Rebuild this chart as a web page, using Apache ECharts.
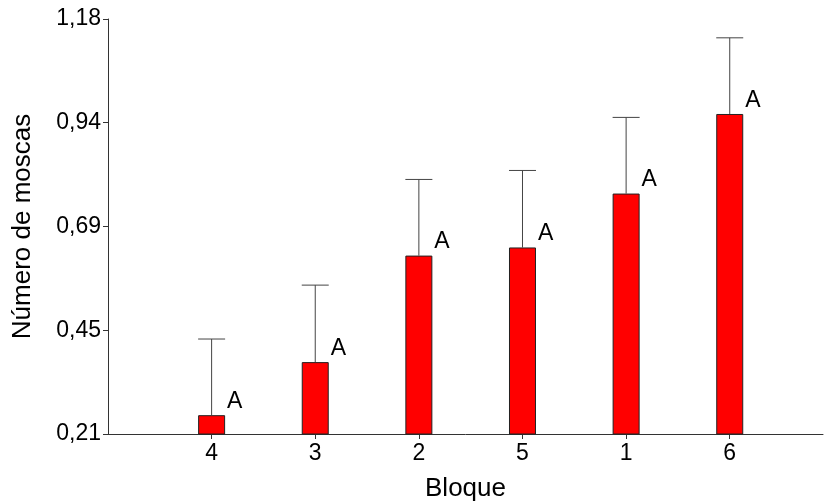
<!DOCTYPE html>
<html>
<head>
<meta charset="utf-8">
<script src="https://cdn.jsdelivr.net/npm/echarts@6/dist/echarts.min.js"></script>
<style>
  html, body { margin: 0; padding: 0; background: #fff; }
  #chart { width: 824px; height: 504px; }
</style>
</head>
<body>
<div id="chart"></div>
<script>
var categories = ['4', '3', '2', '5', '1', '6'];
var means = [0.254, 0.378, 0.627, 0.646, 0.772, 0.958];
var upper = [0.432, 0.558, 0.805, 0.826, 0.950, 1.136];
var letters = ['A', 'A', 'A', 'A', 'A', 'A'];
var yTickValues = [0.21, 0.4525, 0.695, 0.9375, 1.18];
var yTickLabels = ['0,21', '0,45', '0,69', '0,94', '1,18'];

var dom = document.getElementById('chart');
var chart = echarts.init(dom, null, { renderer: 'canvas' });

var positions = categories.map(function (c, i) { return i + 1; });
var barData = means.map(function (v, i) { return [positions[i], v]; });
var errData = upper.map(function (v, i) { return [positions[i], means[i], v]; });

var font = 'Liberation Sans, Arial, sans-serif';
var barW = 27;

var option = {
  animation: false,
  grid: { left: 108, right: 1, top: 19, bottom: 70, outerBoundsMode: 'none' },
  xAxis: {
    type: 'value',
    min: 0,
    max: 6.9,
    name: 'Bloque',
    nameLocation: 'middle',
    nameGap: 42,
    nameTextStyle: { color: '#000', fontSize: 26, fontFamily: font },
    axisLine: { show: true, lineStyle: { color: '#333', width: 1 } },
    axisTick: { show: true, length: 5, customValues: positions, lineStyle: { color: '#333' } },
    axisLabel: {
      customValues: positions,
      color: '#000',
      fontSize: 23,
      fontFamily: font,
      margin: 8,
      formatter: function (v) { return categories[Math.round(v) - 1] || ''; }
    },
    splitLine: { show: false }
  },
  yAxis: {
    type: 'value',
    min: 0.21,
    max: 1.18,
    name: 'Número de moscas',
    nameLocation: 'middle',
    nameGap: 72,
    nameTextStyle: { color: '#000', fontSize: 26, fontFamily: font },
    axisLine: { show: true, lineStyle: { color: '#333', width: 1 } },
    axisTick: { show: true, length: 5, customValues: yTickValues, lineStyle: { color: '#333' } },
    axisLabel: {
      customValues: yTickValues,
      color: '#000',
      fontSize: 23,
      fontFamily: font,
      margin: 7,
      formatter: function (v) {
        var i = yTickValues.indexOf(v);
        return i >= 0 ? yTickLabels[i] : '';
      }
    },
    splitLine: { show: false }
  },
  series: [
    {
      type: 'custom',
      z: 1,
      data: errData,
      renderItem: function (params, api) {
        var x = api.value(0);
        var base = api.coord([x, api.value(1)]);
        var top = api.coord([x, api.value(2)]);
        var half = barW / 2;
        return {
          type: 'group',
          children: [
            { type: 'line', shape: { x1: base[0], y1: base[1], x2: top[0], y2: top[1] },
              style: { stroke: '#444', lineWidth: 1 } },
            { type: 'line', shape: { x1: top[0] - half, y1: top[1], x2: top[0] + half, y2: top[1] },
              style: { stroke: '#444', lineWidth: 1 } }
          ]
        };
      }
    },
    {
      type: 'bar',
      z: 2,
      barWidth: barW,
      data: barData,
      itemStyle: { color: '#ff0000', borderColor: '#222', borderWidth: 1 },
      label: {
        show: true,
        position: ['100%', 0],
        offset: [2, -2],
        align: 'left',
        verticalAlign: 'bottom',
        color: '#000',
        fontSize: 23,
        fontFamily: font,
        formatter: function (p) { return letters[p.dataIndex]; }
      }
    }
  ]
};

chart.setOption(option);
window.addEventListener('resize', chart.resize);
</script>
</body>
</html>
